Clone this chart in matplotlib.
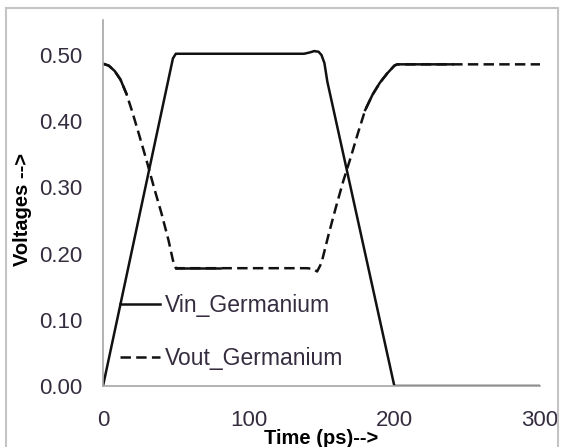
"""Vin / Vout transient for the germanium inverter."""

import matplotlib

matplotlib.use("Agg")
import matplotlib.pyplot as plt
import numpy as np
from matplotlib.patches import Rectangle

# input pulse (ps, V)
t_in = [0, 48, 50, 60, 100, 138, 142, 145, 148, 150, 152, 154, 200, 250, 300]
v_in = [0.0, 0.495, 0.502, 0.502, 0.502, 0.502, 0.504, 0.506, 0.505, 0.500,
        0.488, 0.460, 0.0, 0.0, 0.0]

# output response (ps, V)
t_out = [0, 4, 8, 12, 16, 20, 25, 30, 35, 40, 45, 48, 50, 60, 80, 100, 120,
         140, 144, 147, 150, 155, 160, 165, 170, 175, 180, 185, 190, 195, 200,
         202, 220, 240, 260, 280, 300]
v_out = [0.487, 0.484, 0.476, 0.463, 0.442, 0.415, 0.378, 0.340, 0.300, 0.262,
         0.220, 0.190, 0.178, 0.178, 0.178, 0.178, 0.178, 0.178, 0.177, 0.173,
         0.186, 0.230, 0.271, 0.310, 0.345, 0.382, 0.417, 0.440, 0.458, 0.472,
         0.484, 0.486, 0.486, 0.486, 0.486, 0.486, 0.486]

# stretches where the exported dash pattern collapses into a solid stroke
solid_runs = [(0, 16), (50, 80), (180, 240)]

x_ticks = [0, 100, 200, 300]
y_ticks = [0.0, 0.1, 0.2, 0.3, 0.4, 0.5]

TXT = "#352d3f"

plt.rcParams["font.family"] = ["Liberation Sans", "DejaVu Sans"]
plt.rcParams["lines.scale_dashes"] = False

fig = plt.figure(figsize=(5.64, 4.47), dpi=100)
ax = fig.add_axes([103 / 564, 1 - 386 / 447, 437 / 564, 366 / 447])

ax.plot(t_in, v_in, color="#111111", lw=1.8, label="Vin_Germanium",
        solid_joinstyle="round")
ax.plot(t_out, v_out, color="#111111", lw=1.8, dashes=(7.5, 3.8),
        label="Vout_Germanium")

t_arr = np.array(t_out)
v_arr = np.array(v_out)
for a, b in solid_runs:
    m = (t_arr >= a) & (t_arr <= b)
    ax.plot(t_arr[m], v_arr[m], color="#111111", lw=1.8)

ax.set_xlim(0, 300)
ax.set_ylim(0, 0.553)
ax.set_xticks(x_ticks)
ax.set_yticks(y_ticks)
ax.set_yticklabels([f"{v:.2f}" for v in y_ticks])
ax.tick_params(length=0, labelsize=16, labelcolor=TXT)
ax.tick_params(axis="y", pad=15)
ax.tick_params(axis="x", pad=17)
for s in ("top", "right"):
    ax.spines[s].set_visible(False)
for s in ("left", "bottom"):
    ax.spines[s].set_color("#a6a6a6")
    ax.spines[s].set_linewidth(1.2)

fig.text(321 / 564, 1 - 438 / 447, "Time (ps)-->", ha="center", va="center",
         fontsize=14.5, fontweight="bold")
fig.text(23 / 564, 1 - 210 / 447, "Voltages -->", ha="center", va="center",
         rotation=90, fontsize=14.5, fontweight="bold")

leg = ax.legend(loc="center left", bbox_to_anchor=(120 / 564, 1 - 332 / 447),
                bbox_transform=fig.transFigure, frameon=False, fontsize=16.5,
                handlelength=1.75, handletextpad=0.2, labelspacing=1.35,
                borderpad=0, borderaxespad=0)
for t in leg.get_texts():
    t.set_color(TXT)

fig.patches.append(Rectangle((6 / 564, -0.05), 552 / 564, 1.05 - 8 / 447,
                             transform=fig.transFigure, fill=False,
                             edgecolor="#c4c4c4", lw=1.5))

fig.savefig("out.png", dpi=100)
